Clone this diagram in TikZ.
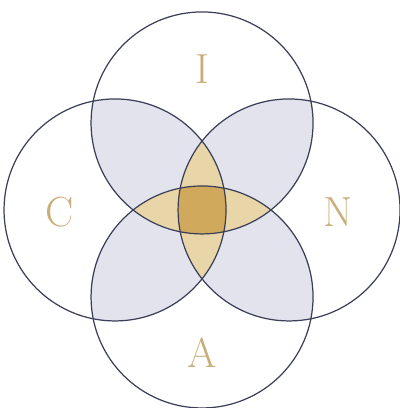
\documentclass[tikz,border=0pt]{standalone}
\usepackage{xcolor}
\usepackage{tikz}
\usetikzlibrary{calc}

\definecolor{ringline}{HTML}{3C3F58}
\definecolor{pairfill}{HTML}{E2E3EC}
\definecolor{triplefill}{HTML}{E9D6A8}
\definecolor{quadfill}{HTML}{D0A95C}
\definecolor{lettertan}{HTML}{C9AE7A}

\begin{document}
\begin{tikzpicture}[scale=0.02,
  ring/.style={draw=ringline, line width=0.7pt},
  letter/.style={text=lettertan, font=\fontsize{24}{28}\selectfont}]
\useasboundingbox (0,0) rectangle (400,408);
% circle centres
\coordinate (top) at (202,285);
\coordinate (lft) at (115,198);
\coordinate (rgt) at (289,198);
\coordinate (bot) at (202,111);
\def\rad{111}

% two-circle overlaps (neighbours)
\foreach \a/\b in {top/lft, top/rgt, bot/lft, bot/rgt}{
  \begin{scope}
    \clip (\a) circle (\rad);
    \fill[pairfill] (\b) circle (\rad);
  \end{scope}
}
% three-circle petals
\begin{scope}
  \clip (lft) circle (\rad);
  \fill[triplefill] (rgt) circle (\rad);
\end{scope}
\begin{scope}
  \clip (top) circle (\rad);
  \fill[triplefill] (bot) circle (\rad);
\end{scope}
% centre, inside all four
\begin{scope}
  \clip (lft) circle (\rad);
  \clip (rgt) circle (\rad);
  \clip (top) circle (\rad);
  \fill[quadfill] (bot) circle (\rad);
\end{scope}

% outlines
\foreach \c in {top, lft, rgt, bot}{
  \draw[ring] (\c) circle (\rad);
}

% letters
\node[letter] (labI) at (202,339) {I};
\node[letter] (labC) at (60,196) {C};
\node[letter] (labN) at (338,196) {N};
\node[letter] (labA) at (202,55) {A};
\end{tikzpicture}
\end{document}
